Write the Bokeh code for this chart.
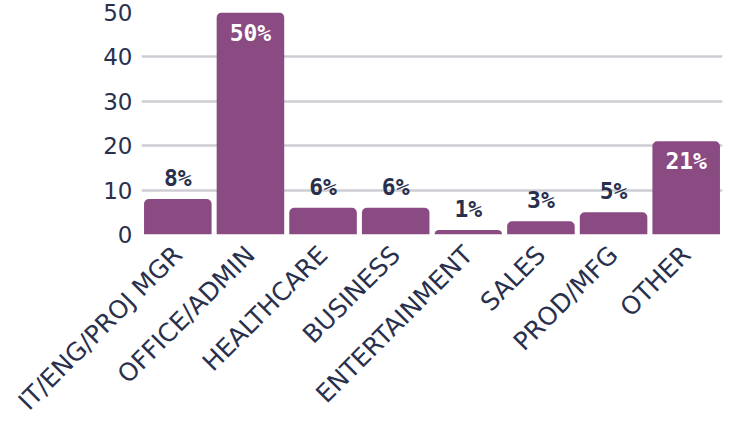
from bokeh.plotting import figure
from bokeh.models import ColumnDataSource, FixedTicker
from bokeh.core.properties import value
from bokeh.embed import file_html
from bokeh.resources import INLINE
import math

categories = ["IT/ENG/PROJ MGR", "OFFICE/ADMIN", "HEALTHCARE", "BUSINESS",
              "ENTERTAINMENT", "SALES", "PROD/MFG", "OTHER"]
values = [8, 50, 6, 6, 1, 3, 5, 21]
labels = ["8%", "50%", "6%", "6%", "1%", "3%", "5%", "21%"]
y_ticks = [0, 10, 20, 30, 40, 50]

BAR = "#8A4A82"
INK = "#28304D"
GRID = "#CDCDD3"

inside = [v > 15 for v in values]
src = ColumnDataSource(dict(
    cat=categories, val=values, lab=labels,
    color=["#FFFFFF" if i else INK for i in inside],
    base=["top" if i else "bottom" for i in inside],
    off=[7 if i else -8 for i in inside],
))

p = figure(x_range=categories, y_range=(0, 50), width=733, height=428,
           output_backend="svg", toolbar_location=None,
           min_border_left=141, min_border_right=11, min_border_top=12,
           min_border_bottom=0)
p.outline_line_color = None
p.background_fill_color = "white"

p.vbar(x="cat", top="val", width=0.93, source=src, fill_color=BAR,
       line_color=None, border_radius=(5, 5, 0, 0))

p.text(x="cat", y="val", text="lab", source=src, text_color="color",
       text_baseline="base", y_offset="off", text_align="center",
       text_font=value("DejaVu Sans Mono"), text_font_style="bold",
       text_font_size="23px")

p.xgrid.grid_line_color = None
p.ygrid.grid_line_color = GRID
p.ygrid.grid_line_width = 2.5
p.yaxis.ticker = FixedTicker(ticks=y_ticks)

for ax in (p.xaxis, p.yaxis):
    ax.axis_line_color = None
    ax.major_tick_line_color = None
    ax.minor_tick_line_color = None
    ax.major_tick_out = 0
    ax.major_tick_in = 0
    ax.major_label_text_color = INK
    ax.major_label_text_font = "DejaVu Sans"

p.yaxis.major_label_text_font_size = "23px"
p.yaxis.major_label_standoff = 9
p.xaxis.major_label_text_font_size = "25px"
p.xaxis.major_label_orientation = math.pi / 4
p.xaxis.major_label_standoff = 16

open("out.html", "w").write(file_html(p, INLINE))
